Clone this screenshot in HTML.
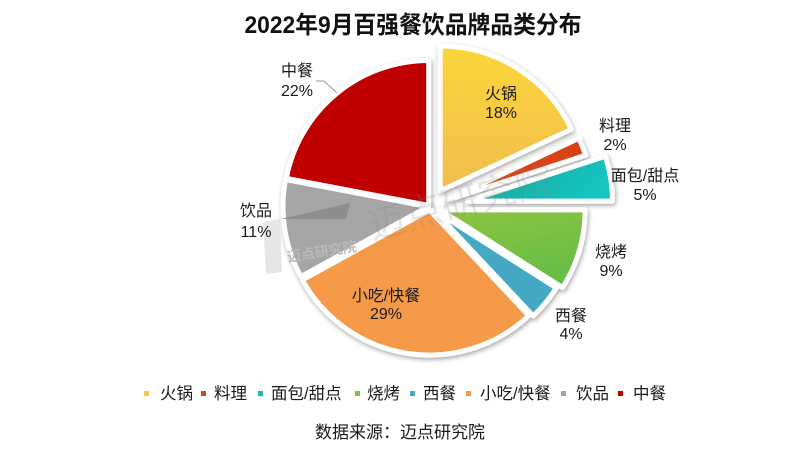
<!DOCTYPE html>
<html><head><meta charset="utf-8"><style>
html,body{margin:0;padding:0;background:#fff;}
svg{display:block;}
text{font-family:"Liberation Sans","Noto Sans CJK SC","WenQuanYi Zen Hei",sans-serif;fill:#1a1a1a;}
</style></head><body>
<svg width="800" height="451" viewBox="0 0 800 451" xmlns="http://www.w3.org/2000/svg">
<defs>
<filter id="sh" x="-20%" y="-20%" width="140%" height="140%">
<feDropShadow dx="1" dy="2" stdDeviation="2.5" flood-color="#000" flood-opacity="0.35"/>
</filter>
<linearGradient id="gy" x1="0" y1="0" x2="0" y2="1"><stop offset="0" stop-color="#fbd639"/><stop offset="1" stop-color="#f1bd4f"/></linearGradient>
<linearGradient id="gt" x1="0" y1="0" x2="1" y2="0.3"><stop offset="0" stop-color="#1fa596"/><stop offset="1" stop-color="#14c4c0"/></linearGradient>
<linearGradient id="gg" x1="0" y1="0" x2="0.4" y2="1"><stop offset="0" stop-color="#8ec541"/><stop offset="1" stop-color="#67bd47"/></linearGradient>
</defs>
<text x="413" y="33" font-size="24" font-weight="bold" text-anchor="middle" textLength="337" lengthAdjust="spacingAndGlyphs" style="fill:#111">2022年9月百强餐饮品牌品类分布</text>

<g filter="url(#sh)" stroke="#fff" stroke-width="5" stroke-linejoin="round">
<path d="M440.2,191 L440.2,46 A145,145 0 0 1 571.4,129.3 Z" fill="url(#gy)"/>
<path d="M447.7,200 L578.9,138.3 A145,145 0 0 1 585.6,155.2 Z" fill="#d84313"/>
<path d="M467.5,201.1 L605.4,156.3 A145,145 0 0 1 612.5,201.1 Z" fill="url(#gt)"/>
<path d="M440.1,209.9 L585.1,209.9 A145,145 0 0 1 562.5,287.6 Z" fill="url(#gg)"/>
<path d="M433.9,210.2 L556.3,287.9 A145,145 0 0 1 533.2,315.9 Z" fill="#45a9c6"/>
<path d="M429.5,210 L528.8,315.7 A145,145 0 0 1 302.4,279.9 Z" fill="#f49a48"/>
<path d="M428,206.7 L300.9,276.6 A145,145 0 0 1 285.6,179.5 Z" fill="#a5a5a5"/>
<path d="M428.7,205.5 L286.3,178.3 A145,145 0 0 1 428.7,60.5 Z" fill="#c00000"/>
</g>

<polygon points="281,219 350,203 346,219" fill="#8e8e8e"/>
<polygon points="263,222 280,219 282,272 266,274" fill="#d6d6d6" opacity="0.6"/>
<text x="288" y="262" font-size="14" font-weight="bold" transform="rotate(-9 288 262)" style="fill:#b9b9b9">迈点研究院</text>
<text x="372" y="240" font-size="38" transform="rotate(-15 372 240)" style="fill:#888" opacity="0.2">迈点研究院</text>

<polyline points="316,81 324,81 337,93" fill="none" stroke="#999" stroke-width="1"/>

<g font-size="16" text-anchor="middle">
<text x="501" y="99">火锅</text><text x="501" y="118">18%</text>
<text x="615" y="131">料理</text><text x="615" y="150">2%</text>
<text x="645" y="181">面包/甜点</text><text x="645" y="200">5%</text>
<text x="611" y="257">烧烤</text><text x="611" y="276">9%</text>
<text x="571" y="321">西餐</text><text x="571" y="339">4%</text>
<text x="386" y="301">小吃/快餐</text><text x="386" y="319">29%</text>
<text x="256" y="216">饮品</text><text x="256" y="237">11%</text>
<text x="297" y="76">中餐</text><text x="297" y="96">22%</text>
</g>

<g>
<rect x="144" y="391" width="5" height="5" fill="#f7c93f"/>
<rect x="201" y="391" width="5" height="5" fill="#d84313"/>
<rect x="258" y="391" width="5" height="5" fill="#18bcb6"/>
<rect x="355" y="391" width="5" height="5" fill="#7cc243"/>
<rect x="410" y="391" width="5" height="5" fill="#45a9c6"/>
<rect x="466" y="391" width="5" height="5" fill="#f49a48"/>
<rect x="561" y="391" width="5" height="5" fill="#a5a5a5"/>
<rect x="618" y="391" width="5" height="5" fill="#c00000"/>
</g>
<g font-size="16.5">
<text x="160" y="399">火锅</text>
<text x="214" y="399">料理</text>
<text x="271" y="399">面包/甜点</text>
<text x="367" y="399">烧烤</text>
<text x="423" y="399">西餐</text>
<text x="480" y="399">小吃/快餐</text>
<text x="576" y="399">饮品</text>
<text x="633" y="399">中餐</text>
</g>
<text x="400" y="438" font-size="17" text-anchor="middle">数据来源：迈点研究院</text>
</svg>
</body></html>
